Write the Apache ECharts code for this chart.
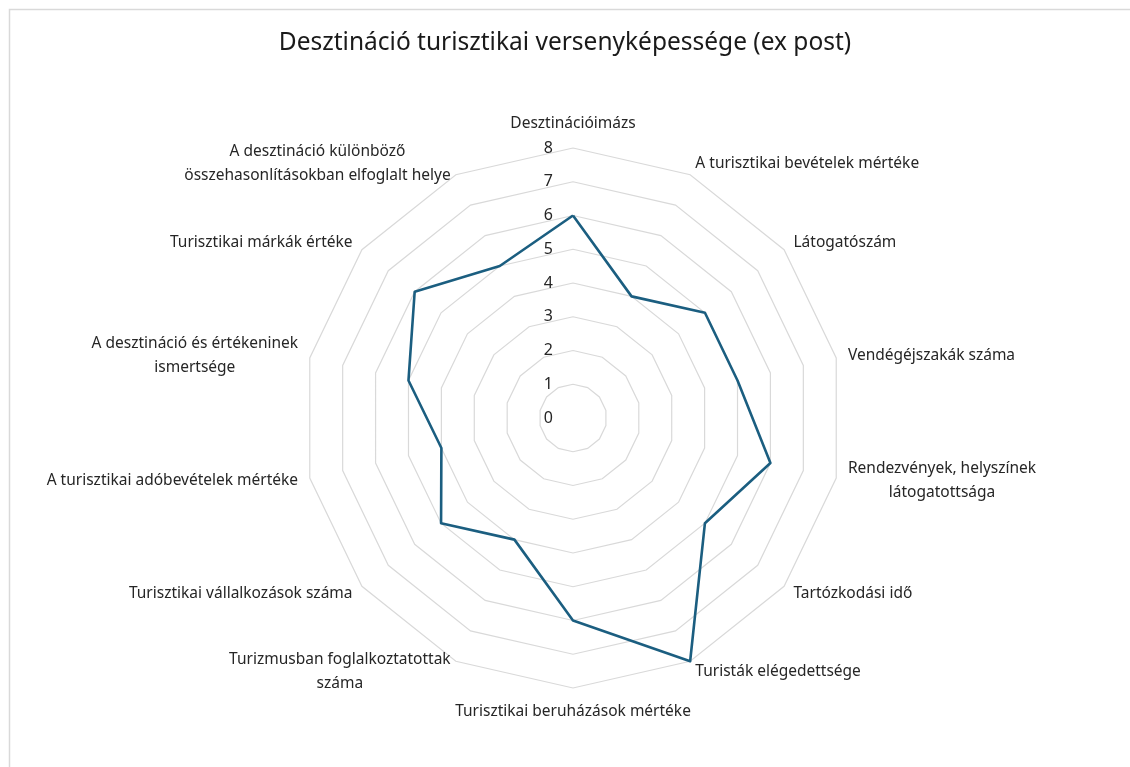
<!DOCTYPE html>
<html>
<head>
<meta charset="utf-8">
<script src="https://cdn.jsdelivr.net/npm/echarts@6/dist/echarts.min.js"></script>
<style>
  html, body { margin: 0; padding: 0; background: #fff; }
  #chart { width: 1130px; height: 767px; }
</style>
</head>
<body>
<div id="chart"></div>
<script>
// indicator names, clockwise from the top
const categories = [
  "Desztinációimázs",
  "A turisztikai bevételek mértéke",
  "Látogatószám",
  "Vendégéjszakák száma",
  "Rendezvények, helyszínek\nlátogatottsága",
  "Tartózkodási idő",
  "Turisták elégedettsége",
  "Turisztikai beruházások mértéke",
  "Turizmusban foglalkoztatottak\nszáma",
  "Turisztikai vállalkozások száma",
  "A turisztikai adóbevételek mértéke",
  "A desztináció és értékeninek\nismertsége",
  "Turisztikai márkák értéke",
  "A desztináció különböző\nösszehasonlításokban elfoglalt helye"
];
const values = [6, 4, 5, 5, 6, 5, 8, 6, 4, 5, 4, 5, 6, 5];
const axisMax = 8;
const seriesName = "ex post";

// echarts radar runs counter-clockwise, so keep the first axis and flip the rest
const cw = arr => [arr[0]].concat(arr.slice(1).reverse());
const radarNames = cw(categories);
const radarValues = cw(values);

const chart = echarts.init(document.getElementById("chart"));

chart.setOption({
  animation: false,
  title: {
    text: "Desztináció turisztikai versenyképessége (ex post)",
    left: "center",
    top: 26,
    textStyle: {
      fontFamily: "Noto Sans",
      fontSize: 24.5,
      fontWeight: "normal",
      color: "#1a1a1a"
    }
  },
  graphic: [{
    type: "polyline",
    silent: true,
    shape: { points: [[9.5, 767], [9.5, 9.5], [1130, 9.5]] },
    style: { stroke: "#d9d9d9", lineWidth: 1.5, fill: null }
  }],
  radar: {
    center: [573, 418],
    radius: 270,
    startAngle: 90,
    splitNumber: 8,
    shape: "polygon",
    nameGap: 12,
    axisName: {
      color: "#262626",
      fontFamily: "Noto Sans",
      fontSize: 15.5,
      lineHeight: 24,
      // multi-line names stay centred inside their block
      formatter: name => name.split("\n").map(l => "{c|" + l + "}").join("\n"),
      rich: {
        c: {
          align: "center",
          color: "#262626",
          fontFamily: "Noto Sans",
          fontSize: 15.5,
          lineHeight: 24
        }
      }
    },
    indicator: radarNames.map((name, i) => ({
      name: name,
      min: 0,
      max: axisMax,
      axisLabel: { show: i === 0 }
    })),
    axisLine: { show: false },
    axisTick: { show: false },
    splitArea: { show: false },
    splitLine: {
      lineStyle: { color: "#d9d9d9", width: 1.2 }
    },
    axisLabel: {
      show: true,
      color: "#262626",
      fontFamily: "Noto Sans",
      fontSize: 16,
      margin: 20,
      showMinLabel: true,
      showMaxLabel: true
    }
  },
  series: [{
    name: seriesName,
    type: "radar",
    symbol: "none",
    data: [{ value: radarValues, name: seriesName }],
    lineStyle: { color: "#1b5e80", width: 2.6 }
  }]
});
</script>
</body>
</html>
